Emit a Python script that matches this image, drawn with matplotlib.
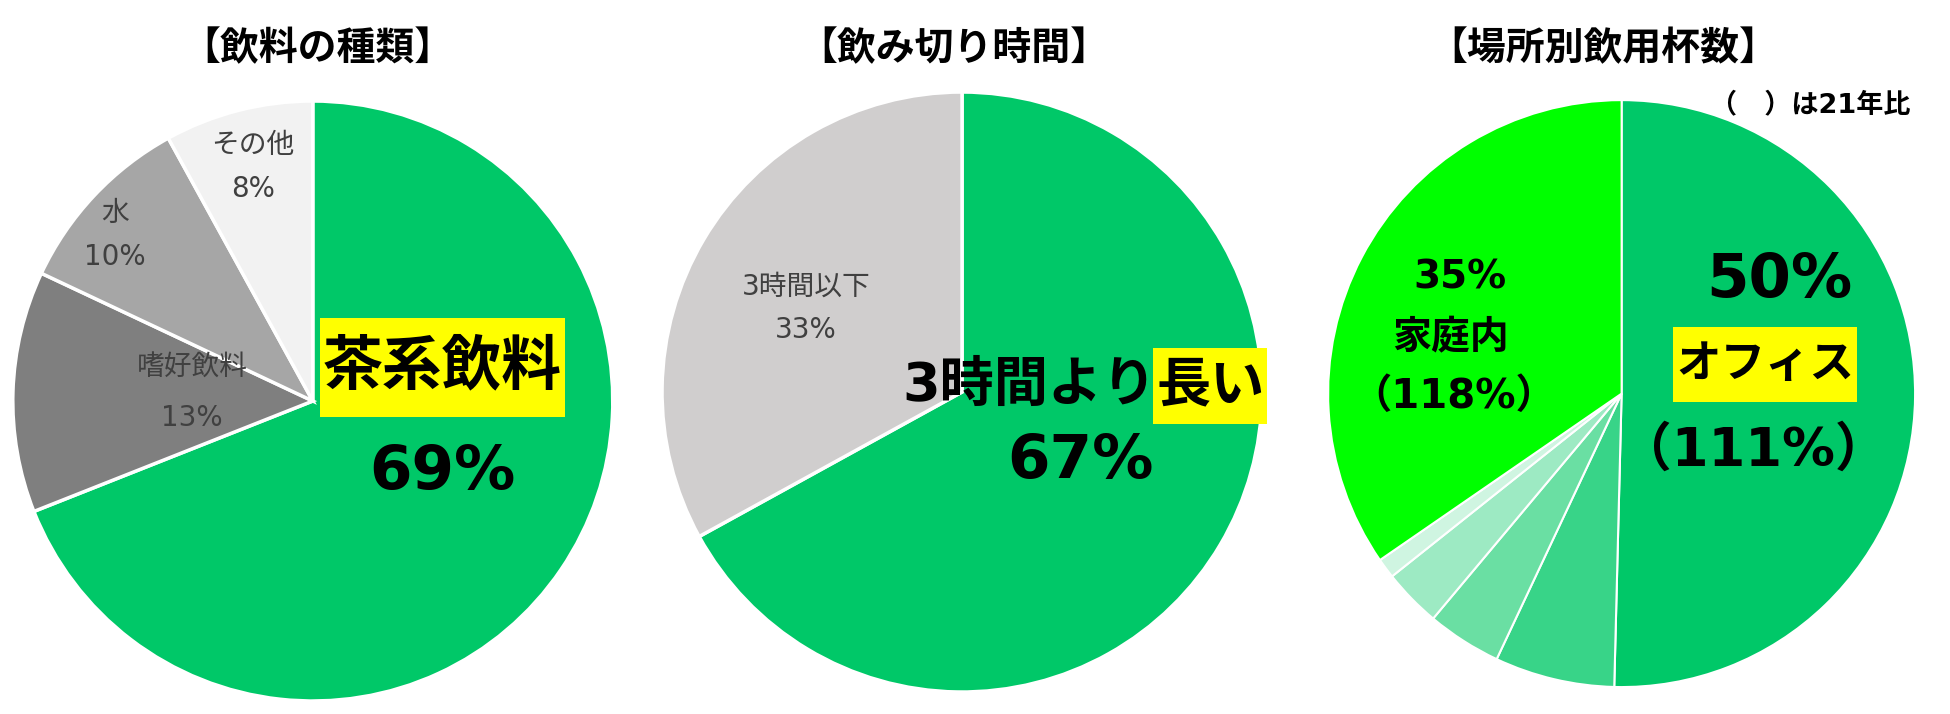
import matplotlib.pyplot as plt
from matplotlib.patches import Rectangle
from matplotlib.transforms import IdentityTransform

plt.rcParams['font.family'] = ['DejaVu Sans', 'Noto Sans CJK JP']

# pie 1: drink types
drink_labels = ['茶系飲料', '嗜好飲料', '水', 'その他']
drink_values = [69, 13, 10, 8]
drink_colors = ['#00C868', '#7F7F7F', '#A6A6A6', '#F2F2F2']

# pie 2: time to finish a bottle
time_labels = ['3時間より長い', '3時間以下']
time_values = [67, 33]
time_colors = ['#00C868', '#D0CECE']

# pie 3: cups by place (small slices are unlabeled in the source)
place_labels = ['オフィス', '区分A', '区分B', '区分C', '区分D', '家庭内']
place_values = [50.4, 6.6, 4.1, 3.2, 1.1, 34.6]
place_colors = ['#00C868', '#38D488', '#6ADFA3', '#9DEAC3', '#CFF5E1', '#00FF00']
place_ratio = {'オフィス': 111, '家庭内': 118}

titles = ['【飲料の種類】', '【飲み切り時間】', '【場所別飲用杯数】']

fig = plt.figure(figsize=(19.5, 7.14), dpi=100)

ax1 = fig.add_axes([0.00656, 0.0182, 0.3077, 0.8403])
ax2 = fig.add_axes([0.3395, 0.0308, 0.3077, 0.8403])
ax3 = fig.add_axes([0.6811, 0.0377, 0.3010, 0.8221])

ax1.pie(drink_values, colors=drink_colors, startangle=90, counterclock=False,
        wedgeprops=dict(edgecolor='white', linewidth=2.5))
ax2.pie(time_values, colors=time_colors, startangle=90, counterclock=False,
        wedgeprops=dict(edgecolor='white', linewidth=2.5))
ax3.pie(place_values, colors=place_colors, startangle=90, counterclock=False,
        wedgeprops=dict(edgecolor='white', linewidth=1.5))

for ax in (ax1, ax2, ax3):
    ax.set_xlim(-1, 1)
    ax.set_ylim(-1, 1)
    ax.axis('off')


def highlight(ax, t, h_em, pad=3):
    # yellow marker box behind a text, taller than the glyphs
    fig.canvas.draw()
    bb = t.get_window_extent()
    h = h_em * t.get_fontsize() * fig.dpi / 72
    cy = (bb.y0 + bb.y1) / 2
    r = Rectangle((bb.x0 - pad, cy - h / 2), bb.width + 2 * pad, h,
                  transform=IdentityTransform(), facecolor='#FFFF00',
                  edgecolor='none', zorder=2, clip_on=False)
    ax.add_patch(r)


small = dict(fontsize=20, color='#404040', ha='center', va='center')

# pie 1 labels
t = ax1.text(0.431, 0.112, drink_labels[0], fontsize=43, fontweight='bold',
             ha='center', va='center')
highlight(ax1, t, 1.66)
ax1.text(0.432, -0.237, f'{drink_values[0]}%', fontsize=44, fontweight='bold',
         ha='center', va='center')
small_pos = {1: (-0.403, 0.111, -0.058), 2: (-0.66, 0.628, 0.481), 3: (-0.2, 0.853, 0.708)}
for i, (x, y1, y2) in small_pos.items():
    ax1.text(x, y1, drink_labels[i], **small)
    ax1.text(x, y2, f'{drink_values[i]}%', **small)

# pie 2 labels
ax2.text(0.647, 0.02, '3時間より', fontsize=39, fontweight='bold', ha='right', va='center')
t = ax2.text(0.647, 0.02, '長い', fontsize=39, fontweight='bold', ha='left', va='center')
highlight(ax2, t, 1.42)
ax2.text(0.396, -0.232, f'{time_values[0]}%', fontsize=44, fontweight='bold',
         ha='center', va='center')
ax2.text(-0.52, 0.351, time_labels[1], **small)
ax2.text(-0.52, 0.207, f'{time_values[1]}%', **small)

# pie 3 labels
ax3.text(0.536, 0.385, f'{round(place_values[0])}%', fontsize=44, fontweight='bold',
         ha='center', va='center')
t = ax3.text(0.489, 0.099, place_labels[0], fontsize=32, fontweight='bold',
             ha='center', va='center')
highlight(ax3, t, 1.69)
ax3.text(0.45, -0.196, f'（{place_ratio["オフィス"]}%）', fontsize=38, fontweight='bold',
         ha='center', va='center')
ax3.text(-0.55, 0.394, f'{round(place_values[-1])}%', fontsize=28, fontweight='bold',
         ha='center', va='center')
ax3.text(-0.583, 0.189, place_labels[-1], fontsize=28, fontweight='bold',
         ha='center', va='center')
ax3.text(-0.571, -0.013, f'（{place_ratio["家庭内"]}%）', fontsize=29, fontweight='bold',
         ha='center', va='center')

# titles
for x, t in zip([0.163, 0.489, 0.8223], titles):
    fig.text(x, 0.931, t, fontsize=28, fontweight='bold', ha='center', va='center')
fig.text(0.98, 0.853, '（　）は21年比', fontsize=19.5, fontweight='bold',
         ha='right', va='center')

fig.savefig('out.png', dpi=100, facecolor='white')
